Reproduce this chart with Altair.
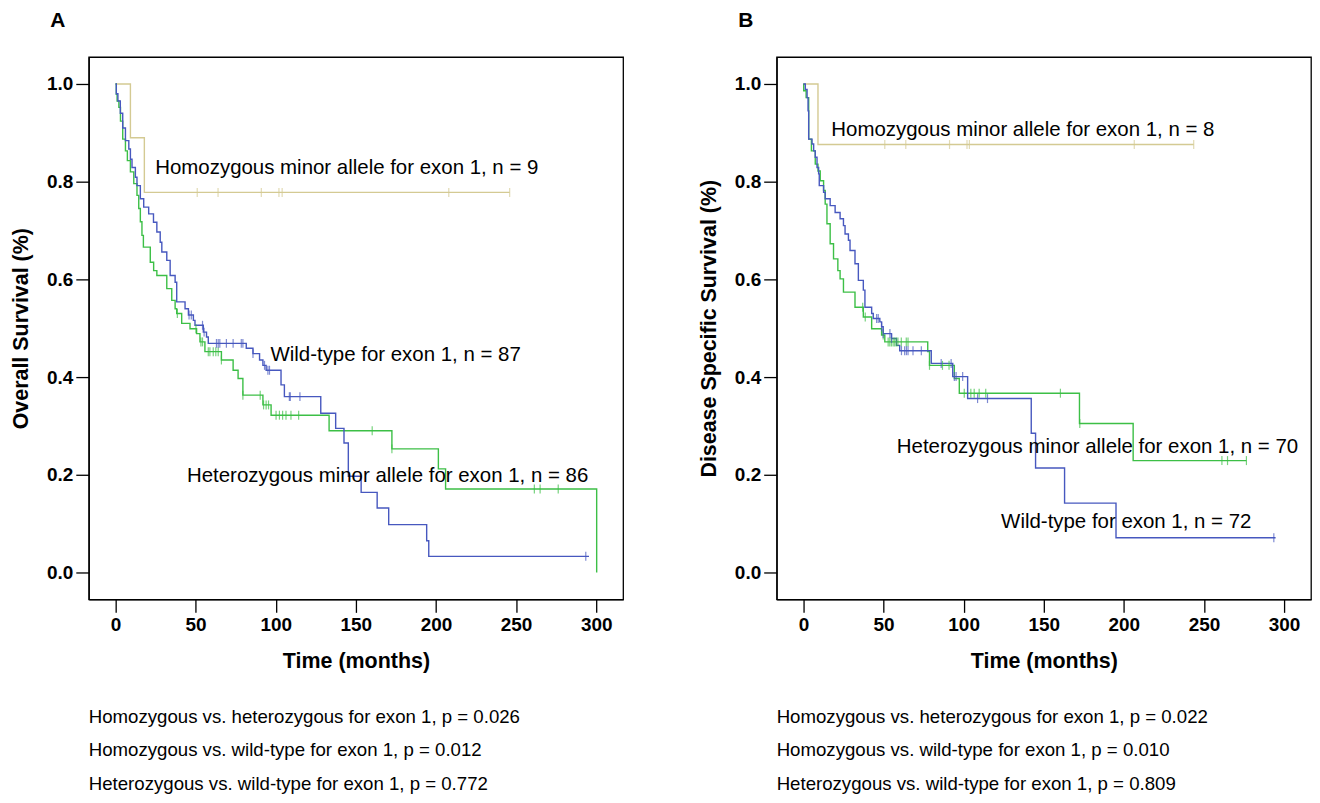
import altair as alt
import numpy as np
import pandas as pd

FONT = "Liberation Sans"
GROUPS = ["Homozygous", "Heterozygous", "Wild-type"]
COLORS = ["#d4ca93", "#3cbf46", "#4758bf"]
X_TICKS = [0, 50, 100, 150, 200, 250, 300]
Y_TICKS = [0.0, 0.2, 0.4, 0.6, 0.8, 1.0]

# ---------------- Panel A : Overall survival ----------------
a_homo_t = [0, 9.3, 18.0, 246.0]
a_homo_s = [1.0, 0.89, 0.778, 0.778]
a_homo_c = [51, 64, 91, 102, 104, 208, 246]

a_het_t = [0, 0.5, 1.0, 2.1, 3.1, 4.5, 6.2, 7.4, 9.3, 11.4, 13.4, 14.5, 15.5, 16.5,
           17.4, 21.7, 23.8, 25.8, 32.0, 35.1, 37.2, 38.2, 41.3, 46.5, 50.6, 52.7,
           55.8, 66.1, 73.4, 76.5, 79.5, 92.0, 97.1, 133.3, 172.5, 201.5, 206.0, 300.3]
a_het_s = [1.0, 0.979, 0.965, 0.952, 0.924, 0.887, 0.863, 0.843, 0.82, 0.796, 0.772,
           0.745, 0.718, 0.69, 0.666, 0.635, 0.618, 0.608, 0.581, 0.557, 0.54, 0.53,
           0.51, 0.499, 0.489, 0.472, 0.452, 0.435, 0.414, 0.397, 0.363, 0.343, 0.322,
           0.29, 0.253, 0.212, 0.171, 0.0]
a_het_c = [38.6, 50.2, 53.3, 54.3, 57.9, 58.9, 61, 62.6, 64.1, 66.1, 79.5, 90.3, 92.4,
           94, 95.5, 100.2, 102.3, 104.3, 106.4, 109.5, 114.3, 160.2, 172.5, 261.4,
           265, 276.3]

a_wt_t = [0, 0.5, 1.5, 3.0, 4.5, 6.2, 8.3, 9.3, 10.3, 12.4, 13.4, 15.5, 17.6, 20.7,
          23.7, 25.8, 27.9, 28.9, 32.0, 34.1, 37.2, 38.2, 43.4, 45.5, 48.6, 49.6,
          54.8, 56.8, 57.9, 81.6, 85.8, 89.9, 92.0, 94.0, 103.3, 105.4, 128.1, 137.4,
          142.6, 145.3, 153.3, 163.3, 170.5, 194.2, 195.5, 295.5]
a_wt_s = [1.0, 0.98, 0.965, 0.94, 0.91, 0.884, 0.867, 0.846, 0.829, 0.809, 0.792,
          0.765, 0.748, 0.734, 0.717, 0.697, 0.676, 0.656, 0.639, 0.608, 0.594, 0.554,
          0.54, 0.527, 0.516, 0.506, 0.492, 0.482, 0.469, 0.459, 0.448, 0.435, 0.424,
          0.414, 0.384, 0.36, 0.326, 0.295, 0.265, 0.197, 0.164, 0.132, 0.098, 0.065,
          0.033, 0.033]
a_wt_c = [45.9, 47.3, 54.3, 55.3, 63, 64.1, 65.1, 69.2, 73.4, 78.5, 79.5, 85.8, 93,
          95.1, 96.1, 108.5, 109.1, 115.1, 293.5]

a_label_text = ["Homozygous minor allele for exon 1, n = 9",
                "Wild-type for exon 1, n = 87",
                "Heterozygous minor allele for exon 1, n = 86"]
a_label_t = [24.8, 96.7, 44.6]
a_label_s = [0.827, 0.445, 0.198]
a_pvals = ["Homozygous vs. heterozygous for exon 1, p = 0.026",
           "Homozygous vs. wild-type for exon 1, p = 0.012",
           "Heterozygous vs. wild-type for exon 1, p = 0.772"]

# ---------------- Panel B : Disease specific survival ----------------
b_homo_t = [0, 9.1, 243.6]
b_homo_s = [1.0, 0.876, 0.876]
b_homo_c = [50.8, 63.9, 91.2, 102.1, 103.6, 206.5, 243.6]

b_het_t = [0, 0.2, 1.7, 3.3, 5.0, 7.4, 9.1, 10.5, 12.6, 13.6, 14.7, 16.7, 18.8, 21.5,
           22.9, 25.0, 32.2, 37.4, 42.6, 48.8, 50.8, 77.6, 78.7, 94.2, 97.3, 172.3,
           205.8, 276.5]
b_het_s = [1.0, 0.986, 0.972, 0.887, 0.863, 0.836, 0.822, 0.802, 0.782, 0.754, 0.714,
           0.673, 0.642, 0.618, 0.601, 0.574, 0.543, 0.523, 0.499, 0.486, 0.472, 0.452,
           0.424, 0.397, 0.367, 0.305, 0.229, 0.229]
b_het_c = [37, 38.6, 49.8, 52.9, 53.9, 54.9, 56, 57, 58, 59, 61.1, 64.2, 65.3, 78.7,
           86.8, 90.9, 100.4, 104.5, 106.6, 109.7, 113.8, 160.4, 172.5, 261.2, 264.7,
           276.5]

b_wt_t = [0, 1.2, 2.3, 2.9, 3.3, 5.4, 6.4, 7.4, 8.5, 9.5, 9.9, 12.6, 13.6, 16.7, 19.8,
          22.9, 25.0, 26.0, 28.1, 29.1, 32.2, 34.3, 37.4, 38.4, 42.6, 43.6, 47.7, 48.8,
          49.8, 55.0, 58.1, 60.1, 79.8, 93.2, 102.5, 142.2, 144.9, 163.0, 195.1, 294.7]
b_wt_s = [1.0, 0.989, 0.972, 0.945, 0.887, 0.877, 0.863, 0.85, 0.829, 0.816, 0.792,
          0.778, 0.765, 0.751, 0.737, 0.724, 0.71, 0.693, 0.68, 0.659, 0.632, 0.598,
          0.578, 0.543, 0.53, 0.52, 0.513, 0.503, 0.489, 0.479, 0.465, 0.454, 0.428,
          0.401, 0.356, 0.285, 0.214, 0.142, 0.071, 0.071]
b_wt_c = [45.7, 46.7, 48.8, 49.8, 54, 55, 61.2, 63.2, 64.3, 65.3, 68.4, 73.6, 86, 92.2,
          94.2, 95.3, 99.4, 108.7, 114.9, 293.6]

b_label_text = ["Homozygous minor allele for exon 1, n = 8",
                "Heterozygous minor allele for exon 1, n = 70",
                "Wild-type for exon 1, n = 72"]
b_label_t = [17.4, 58.3, 123.4]
b_label_s = [0.906, 0.257, 0.104]
b_pvals = ["Homozygous vs. heterozygous for exon 1, p = 0.022",
           "Homozygous vs. wild-type for exon 1, p = 0.010",
           "Heterozygous vs. wild-type for exon 1, p = 0.809"]


def curve_frames(series):
    lines, cens = [], []
    for group, t, s, c in series:
        t = np.asarray(t, float)
        s = np.asarray(s, float)
        lines.append(pd.DataFrame({"group": group, "time": t, "surv": s}))
        c = np.asarray(c, float)
        idx = np.clip(np.searchsorted(t, c, side="right") - 1, 0, len(s) - 1)
        cens.append(pd.DataFrame({"group": group, "time": c, "surv": s[idx]}))
    return pd.concat(lines, ignore_index=True), pd.concat(cens, ignore_index=True)


def panel(series, label_text, label_t, label_s, ytitle, letter, pvals):
    lines_df, cens_df = curve_frames(series)
    lab_df = pd.DataFrame({"text": label_text, "time": label_t, "surv": label_s})
    xs = alt.Scale(domain=[-16.7, 316.8], nice=False, zero=False)
    ys = alt.Scale(domain=[-0.0551, 1.0551], nice=False, zero=False)
    xenc = alt.X("time:Q", scale=xs,
                 axis=alt.Axis(values=X_TICKS, format="d", title="Time (months)"))
    yenc = alt.Y("surv:Q", scale=ys,
                 axis=alt.Axis(values=Y_TICKS, format=".1f", title=ytitle))
    color = alt.Color("group:N", scale=alt.Scale(domain=GROUPS, range=COLORS),
                      legend=None)
    lines = alt.Chart(lines_df).mark_line(
        interpolate="step-after", strokeWidth=1.4
    ).encode(x=xenc, y=yenc, color=color)
    ticks = alt.Chart(cens_df).mark_tick(
        orient="vertical", size=9, thickness=1.2
    ).encode(x=xenc, y=yenc, color=color)
    labels = alt.Chart(lab_df).mark_text(
        align="left", baseline="middle", fontSize=20.5, font=FONT, color="black"
    ).encode(x=xenc, y=yenc, text="text:N")
    letter_mark = alt.Chart(pd.DataFrame({"letter": [letter]})).mark_text(
        fontSize=21, fontWeight="bold", font=FONT, color="black",
        align="center", baseline="middle"
    ).encode(x=alt.value(-31), y=alt.value(-36), text="letter:N")
    return alt.layer(lines, ticks, labels, letter_mark).properties(
        width=536, height=544,
        title=alt.TitleParams(text=pvals, orient="bottom", anchor="start",
                              frame="group", fontSize=18.7, fontWeight="normal",
                              font=FONT, lineHeight=34, offset=36, color="black"),
    )


pA = panel([("Homozygous", a_homo_t, a_homo_s, a_homo_c),
            ("Heterozygous", a_het_t, a_het_s, a_het_c),
            ("Wild-type", a_wt_t, a_wt_s, a_wt_c)],
           a_label_text, a_label_t, a_label_s, "Overall Survival (%)", "A", a_pvals)
pB = panel([("Homozygous", b_homo_t, b_homo_s, b_homo_c),
            ("Heterozygous", b_het_t, b_het_s, b_het_c),
            ("Wild-type", b_wt_t, b_wt_s, b_wt_c)],
           b_label_text, b_label_t, b_label_s, "Disease Specific Survival (%)", "B",
           b_pvals)

chart = alt.hconcat(pA, pB, spacing=73).properties(
    padding={"left": 1, "top": 0, "right": 0, "bottom": 0}
).configure_view(
    stroke="black", strokeWidth=1.3
).configure_axis(
    grid=False, domainColor="black", domainWidth=1.3, tickColor="black",
    tickWidth=1.3, tickSize=13, labelColor="black", labelFont=FONT,
    labelFontSize=19, labelFontWeight="bold", labelPadding=3, titleColor="black",
    titleFont=FONT, titleFontSize=21.5, titleFontWeight="bold"
).configure_axisX(titlePadding=16).configure_axisY(titlePadding=14)

chart.save("out.html", embed_options={"renderer": "svg", "actions": False})
